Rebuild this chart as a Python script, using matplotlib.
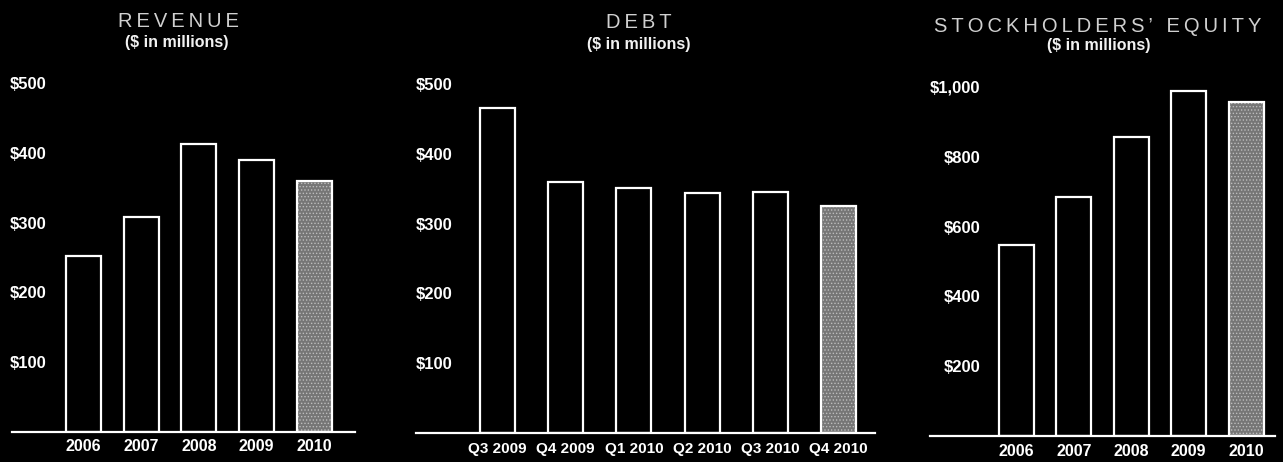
import matplotlib
matplotlib.use('Agg')
import matplotlib.pyplot as plt

plt.rcParams['font.family'] = ['Liberation Sans', 'DejaVu Sans']
plt.rcParams['hatch.linewidth'] = 0.6

# data
rev_years = ['2006', '2007', '2008', '2009', '2010']
rev_values = [252, 308, 413, 390, 360]
rev_ticks = [100, 200, 300, 400, 500]
rev_tick_labels = [r'\$100', r'\$200', r'\$300', r'\$400', r'\$500']

debt_quarters = ['Q3 2009', 'Q4 2009', 'Q1 2010', 'Q2 2010', 'Q3 2010', 'Q4 2010']
debt_values = [466, 360, 351, 344, 345, 325]
debt_ticks = [100, 200, 300, 400, 500]
debt_tick_labels = [r'\$100', r'\$200', r'\$300', r'\$400', r'\$500']

eq_years = ['2006', '2007', '2008', '2009', '2010']
eq_values = [547, 685, 857, 989, 957]
eq_ticks = [200, 400, 600, 800, 1000]
eq_tick_labels = [r'\$200', r'\$400', r'\$600', r'\$800', r'\$1,000']

W, H = 1283, 462
fig = plt.figure(figsize=(W / 100, H / 100), dpi=100, facecolor='black')


def panel(left, right, base, top, ymax, c0, step, cats, vals, ticks, tick_labels,
          ypad, xpad, xsize=11.5):
    # axes placed in pixel units; c0/step = first bar centre and spacing in px
    ax = fig.add_axes([left / W, 1 - base / H, (right - left) / W, (base - top) / H])
    ax.set_facecolor('black')
    x = list(range(len(vals)))
    w = 35 / step
    ax.set_xlim((left - c0) / step, (right - c0) / step)
    ax.set_ylim(0, ymax)

    # shaded latest bar
    ax.bar(x[-1:], vals[-1:], width=w, facecolor='#767676', edgecolor='#bdbdbd',
           linewidth=0, hatch='.....', zorder=2)
    faces = ['black'] * (len(vals) - 1) + ['none']
    ax.bar(x, vals, width=w, facecolor=faces, edgecolor='white', linewidth=1.6, zorder=3)

    for s in ['left', 'right', 'top']:
        ax.spines[s].set_visible(False)
    ax.spines['bottom'].set_color('white')
    ax.spines['bottom'].set_linewidth(1.6)
    ax.spines['bottom'].set_zorder(4)

    ax.set_xticks(x, cats)
    ax.set_yticks(ticks, tick_labels)
    ax.tick_params(axis='both', length=0, colors='white')
    ax.tick_params(axis='y', pad=ypad, labelsize=12)
    ax.tick_params(axis='x', pad=xpad, labelsize=xsize)
    for lab in ax.get_yticklabels() + ax.get_xticklabels():
        lab.set_fontweight('bold')
    return ax


panel(12, 355, 432, 83, 500, 83.5, 57.7, rev_years, rev_values,
      rev_ticks, rev_tick_labels, ypad=-25, xpad=5)
panel(416, 875, 433, 84, 500, 497.5, 68.2, debt_quarters, debt_values,
      debt_ticks, debt_tick_labels, ypad=-26, xpad=6.5, xsize=11)
panel(930, 1275, 436, 87, 1000, 1016.5, 57.4, eq_years, eq_values,
      eq_ticks, eq_tick_labels, ypad=-36, xpad=5.5)


def spaced(s):
    # letter-spaced caps: thin space between letters
    words = ['\u2009'.join(wd) for wd in s.split(' ')]
    return '\u2009 \u2009'.join(words)


titles = [('REVENUE', 178.5, 27, 177, 47),
          ('DEBT', 639, 28, 639, 49),
          ('STOCKHOLDERS\u2019 EQUITY', 1098, 32, 1098.5, 50)]
for name, tx, ty, sx, sy in titles:
    fig.text(tx / W, 1 - ty / H, spaced(name), ha='center', va='baseline',
             fontsize=14.5, color='#d0d0d0', family=['Liberation Sans', 'DejaVu Sans'])
    fig.text(sx / W, 1 - sy / H, r'(\$ in millions)', ha='center', va='baseline',
             fontsize=11.5, fontweight='bold', color='#f2f2f2')

fig.savefig('out.png', dpi=100, facecolor='black')
